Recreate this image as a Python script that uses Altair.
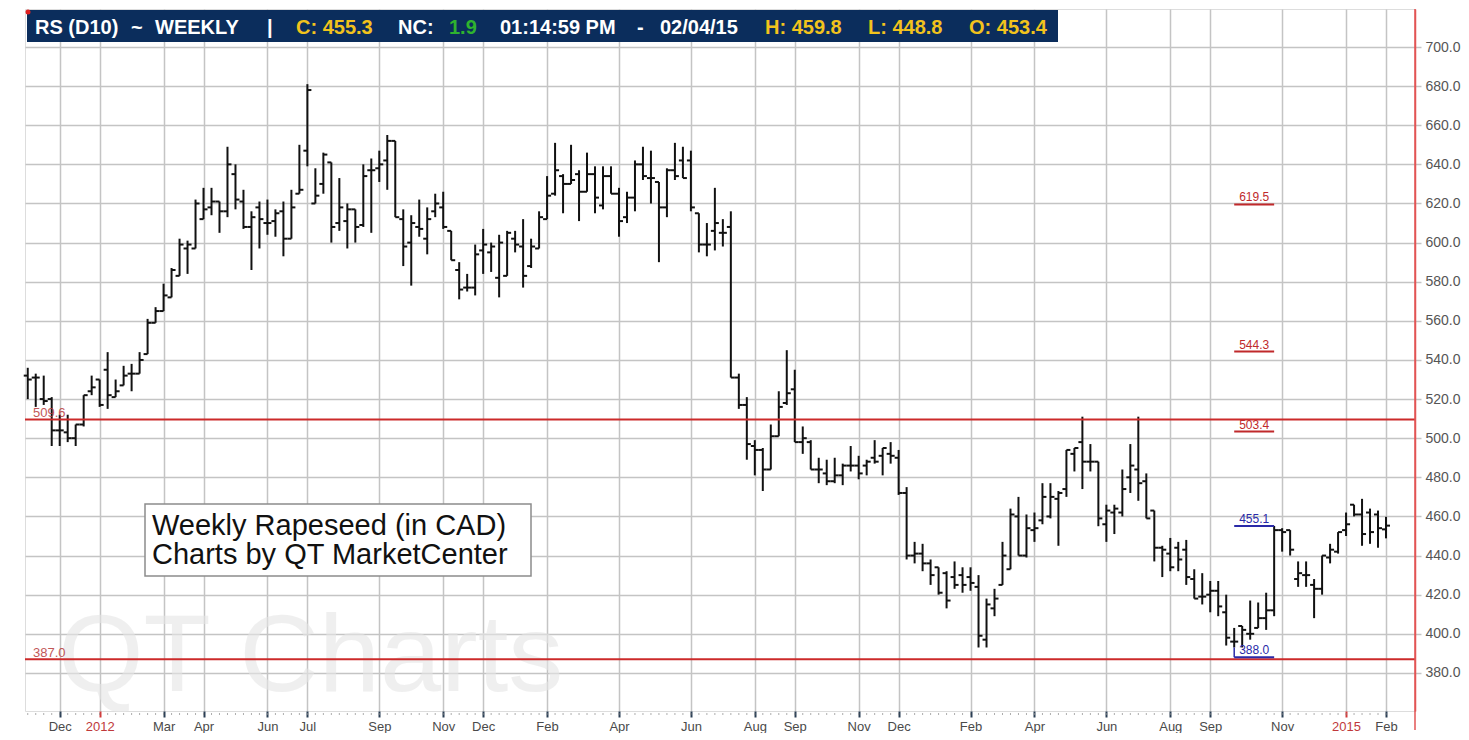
import altair as alt
import pandas as pd

# ---------------- data (weekly OHLC) ----------------
opens = [532, 531, 520, 520, 504, 503, 500, 507, 524, 530, 535, 521, 527, 533, 533, 543, 559, 565, 572, 583,
         597, 597, 612, 618, 621, 616, 635, 621, 608, 618, 610, 611, 616, 602, 625, 647, 620, 630, 641, 610,
         611, 617, 609, 637, 638, 642, 652, 612, 600, 608, 602, 616, 618, 606, 586, 577, 577, 596, 595, 582,
         583, 602, 598, 588, 597, 612, 625, 634, 630, 635, 626, 635, 619, 634, 625, 613, 623, 640, 633, 631,
         618, 637, 642, 642, 615, 599, 606, 605, 608, 531, 517, 496, 494, 484, 501, 518, 525, 498, 498, 484,
         482, 478, 481, 486, 486, 486, 490, 491, 492, 490, 472, 440, 441, 436, 434, 431, 429, 430, 429, 424,
         397, 413, 425, 433, 460, 440, 453, 458, 460, 469, 474, 492, 498, 488, 488, 456, 462, 462, 480, 484,
         478, 463, 444, 441, 444, 443, 428, 419, 420, 422, 411, 396, 404, 400, 403, 408, 412, 453, 453, 428,
         430, 425, 423, 439, 442, 453, 466, 461, 462, 461, 453.4]
highs = [536, 533, 532, 521, 512, 512, 507, 522, 532, 530, 544, 530, 537, 538, 544, 561, 567, 579, 587, 602,
         601, 622, 628, 628, 621, 649, 640, 627, 616, 621, 622, 617, 621, 627, 650, 681, 638, 646, 641, 633,
         620, 617, 640, 643, 647, 655, 652, 617, 614, 622, 618, 625, 626, 606, 590, 584, 599, 607, 600, 604,
         606, 606, 612, 602, 616, 634, 651, 635, 650, 637, 646, 639, 639, 639, 628, 626, 642, 649, 647, 631,
         638, 651, 649, 647, 615, 610, 628, 612, 616, 533, 521, 499, 495, 507, 524, 545, 535, 506, 499, 490,
         489, 490, 487, 496, 491, 489, 499, 495, 498, 494, 475, 447, 446, 438, 434, 432, 437, 434, 434, 430,
         418, 423, 447, 464, 470, 461, 462, 477, 477, 473, 494, 495, 511, 497, 488, 466, 466, 484, 497, 511,
         482, 463, 445, 449, 447, 448, 433, 431, 427, 427, 420, 403, 404, 417, 416, 421, 455.1, 454, 453, 437,
         437, 428, 440, 446, 452, 462, 466, 469, 464, 463, 459.8]
lows = [520, 516, 517, 496, 496, 498, 496, 506, 522, 516, 515, 521, 527, 524, 533, 543, 559, 565, 572, 583,
        584, 597, 612, 614, 605, 613, 617, 607, 586, 597, 604, 603, 593, 602, 625, 639, 620, 625, 600, 606,
        597, 600, 608, 605, 631, 627, 613, 588, 578, 603, 594, 613, 607, 591, 571, 575, 573, 584, 585, 572,
        583, 595, 577, 587, 597, 612, 624, 615, 630, 611, 626, 615, 617, 625, 603, 610, 616, 632, 620, 590,
        613, 632, 633, 616, 595, 593, 596, 598, 531, 515, 489, 481, 473, 484, 501, 517, 498, 492, 484, 477,
        476, 477, 476, 483, 479, 481, 487, 481, 487, 471, 438, 436, 432, 425, 420, 413, 423, 421, 422, 393,
        393, 409, 425, 433, 440, 439, 447, 456, 459, 445, 470, 483, 474, 483, 455, 447, 451, 460, 472, 468,
        459, 437, 429, 432, 432, 425, 418, 415, 411, 409, 394, 393, 393, 397, 403, 402, 409, 442, 440, 424,
        424, 408, 420, 436, 441, 450, 460, 445, 446, 444, 448.8]
closes = [530, 531, 519, 504, 504, 500, 507, 522, 526, 517, 522, 524, 532, 533, 540, 559, 565, 573, 586, 599,
          599, 620, 617, 621, 616, 640, 622, 608, 613, 612, 610, 615, 602, 618, 627, 678, 624, 645, 608, 618,
          617, 608, 634, 637, 640, 652, 613, 598, 610, 607, 612, 620, 608, 591, 576, 577, 594, 599, 598, 600,
          605, 599, 583, 598, 613, 624, 637, 630, 632, 626, 635, 623, 634, 625, 611, 623, 640, 634, 633, 618,
          637, 634, 633, 618, 599, 599, 610, 605, 531, 517, 497, 494, 484, 501, 516, 523, 498, 500, 484, 484,
          478, 481, 486, 486, 482, 488, 488, 495, 491, 472, 440, 441, 436, 430, 421, 417, 425, 425, 426, 399,
          415, 418, 440, 461, 440, 454, 454, 470, 470, 472, 494, 495, 488, 488, 459, 463, 464, 474, 486, 477,
          459, 444, 443, 434, 438, 429, 418, 419, 422, 414, 398, 396, 402, 400, 408, 412, 453, 452, 443, 431,
          430, 423, 440, 443, 452, 456, 461, 451, 452, 454, 455.3]
last_week = "2015-02-06"

axis_ticks = ["2011-12-02", "2012-01-06", "2012-03-02", "2012-04-06", "2012-06-01", "2012-07-06",
              "2012-09-07", "2012-11-02", "2012-12-07", "2013-02-01", "2013-04-05", "2013-06-07",
              "2013-08-02", "2013-09-06", "2013-11-01", "2013-12-06", "2014-02-07", "2014-04-04",
              "2014-06-06", "2014-08-01", "2014-09-05", "2014-11-07", "2015-01-02", "2015-02-06"]
y_ticks = list(range(380, 701, 20))

level_values = [509.6, 387.0]
level_labels = ["509.6", "387.0"]
fib_values = [619.5, 544.3, 503.4, 455.1, 388.0]
fib_labels = ["619.5", "544.3", "503.4", "455.1", "388.0"]
fib_colors = ["#c0292b", "#c0292b", "#c0292b", "#2a2aa8", "#2a2aa8"]

header_texts = ["RS (D10)", "~", "WEEKLY", "|", "C: 455.3", "NC:", "1.9", "01:14:59 PM", "-",
                "02/04/15", "H: 459.8", "L: 448.8", "O: 453.4"]
header_colors = ["white", "white", "white", "white", "#f2c31c", "white", "#2fb32f", "white", "white",
                 "white", "#f2c31c", "#f2c31c", "#f2c31c"]
header_x = [10, 106, 130, 242, 271, 373, 424, 475, 612, 635, 740, 843, 944]

note_lines = ["Weekly Rapeseed (in CAD)", "Charts by QT MarketCenter"]
watermark = "QT Charts"

# ---------------- layout ----------------
W, H = 1390, 702
FONT = "Liberation Sans, Arial, sans-serif"
NARROW = "Liberation Sans Narrow, Arial Narrow, Liberation Sans, sans-serif"

dates = pd.date_range(end=last_week, periods=len(opens), freq="W-FRI")
df = pd.DataFrame({"date": dates, "open": opens, "high": highs, "low": lows, "close": closes})

left = dates[0] - pd.Timedelta(days=2.4)
right = left + pd.Timedelta(days=1217.8)


def dt(ts):
    return alt.DateTime(year=ts.year, month=ts.month, date=ts.day, hours=ts.hour, minutes=ts.minute)


tick_vals = [dt(pd.Timestamp(d)) for d in axis_ticks]

xscale = alt.Scale(domain=[dt(left), dt(right)])
yscale = alt.Scale(domain=[360.53, 719.43], nice=False, zero=False)

jan_test = "month(datum.value) == 0"
xaxis = alt.Axis(
    values=tick_vals, title=None, grid=True, gridColor="#c4c4c4", gridWidth=1.5,
    domain=False, tickSize=6, tickWidth=2,
    tickColor={"condition": {"test": jan_test, "value": "#d23a3a"}, "value": "#2b3f55"},
    labelColor={"condition": {"test": jan_test, "value": "#c0393b"}, "value": "#4a4a4a"},
    labelExpr="month(datum.value) == 0 ? timeFormat(datum.value, '%Y') : timeFormat(datum.value, '%b')",
    labelFont=NARROW, labelFontSize=13, labelPadding=3,
)
yaxis = alt.Axis(
    orient="right", values=y_ticks, format=".1f", title=None, grid=True, gridColor="#c4c4c4",
    gridWidth=1.5, tickSize=6, tickColor="#c4c4c4", tickWidth=1.5, domainColor="#e25555",
    domainWidth=1.5, labelFont=FONT, labelFontSize=14, labelColor="#555555", labelPadding=4,
)

base = alt.Chart(df)
hl = base.mark_rule(color="#111111", strokeWidth=2).encode(
    x=alt.X("date:T", scale=xscale, axis=xaxis),
    y=alt.Y("low:Q", scale=yscale, axis=yaxis),
    y2="high:Q",
)
op = base.mark_rule(color="#111111", strokeWidth=2, xOffset=-4).encode(
    x="date:T", x2="date:T", y=alt.Y("open:Q", scale=yscale))
cl = base.mark_rule(color="#111111", strokeWidth=2, x2Offset=4).encode(
    x="date:T", x2="date:T", y=alt.Y("close:Q", scale=yscale))
minor = base.mark_tick(orient="vertical", size=2, thickness=1, color="#8a8a8a").encode(
    x="date:T", y=alt.value(H + 3))

# horizontal levels
lv = pd.DataFrame({"v": level_values, "t": level_labels})
lv_rule = alt.Chart(lv).mark_rule(color="#cc2a2a", strokeWidth=2).encode(y=alt.Y("v:Q", scale=yscale))
lv_text = alt.Chart(lv).mark_text(align="left", baseline="alphabetic", dy=-2, font=FONT, fontSize=13,
                                  color="#b83a3a", opacity=0.85).encode(
    x=alt.value(8), y=alt.Y("v:Q", scale=yscale), text="t:N")

# fib segments
fb = pd.DataFrame({"v": fib_values, "t": fib_labels, "c": fib_colors,
                   "start": dates[151], "end": dates[156],
                   "mid": dates[151] + (dates[156] - dates[151]) / 2})
fb_rule = alt.Chart(fb).mark_rule(strokeWidth=2).encode(
    x="start:T", x2="end:T", y=alt.Y("v:Q", scale=yscale), color=alt.Color("c:N", scale=None))
fb_text = alt.Chart(fb).mark_text(align="center", baseline="alphabetic", dy=-3, font=FONT,
                                  fontSize=12).encode(
    x="mid:T", y=alt.Y("v:Q", scale=yscale), text="t:N", color=alt.Color("c:N", scale=None))
low_link = alt.Chart(pd.DataFrame({"date": [dates[151]], "a": [fib_values[4]], "b": [lows[151]]})).mark_rule(
    color="#2a2aa8", strokeWidth=1.5).encode(x="date:T", y=alt.Y("a:Q", scale=yscale), y2="b:Q")

one = pd.DataFrame({"k": [0]})
wm = alt.Chart(one).mark_text(text=watermark, align="left", baseline="alphabetic", font=FONT,
                              fontSize=110, color="#e6e6e6", opacity=0.6).encode(
    x=alt.value(33), y=alt.value(682))
note_box = alt.Chart(one).mark_rect(fill="white", stroke="#8c8c8c", strokeWidth=1.5).encode(
    x=alt.value(120), x2=alt.value(506), y=alt.value(495), y2=alt.value(567))
note1 = alt.Chart(one).mark_text(text=note_lines[0], align="left", baseline="alphabetic", font=FONT,
                                 fontSize=29, color="#111111").encode(x=alt.value(127), y=alt.value(526))
note2 = alt.Chart(one).mark_text(text=note_lines[1], align="left", baseline="alphabetic", font=FONT,
                                 fontSize=29, color="#111111").encode(x=alt.value(127), y=alt.value(555))

header_box = alt.Chart(one).mark_rect(fill="#0b2d5c").encode(
    x=alt.value(2), x2=alt.value(1033), y=alt.value(1), y2=alt.value(33))
header_layers = []
for t, c, hx in zip(header_texts, header_colors, header_x):
    header_layers.append(
        alt.Chart(one).mark_text(text=t, align="left", baseline="alphabetic", font=FONT, fontSize=20,
                                 fontWeight="bold", color=c).encode(x=alt.value(hx), y=alt.value(25)))
corner = alt.Chart(one).mark_point(filled=True, color="#e02020", size=25, opacity=1).encode(
    x=alt.value(3), y=alt.value(3))
right_line = alt.Chart(one).mark_rule(color="#e25555", strokeWidth=1.5).encode(
    x=alt.value(W), y=alt.value(0), y2=alt.value(H + 19))

chart = alt.layer(
    hl, wm, lv_rule, lv_text, fb_rule, fb_text, low_link, op, cl, minor,
    note_box, note1, note2, header_box, *header_layers, corner, right_line,
).properties(
    width=W, height=H,
    autosize=alt.AutoSizeParams(type="pad"),
    padding={"left": 14, "top": 0, "right": 0, "bottom": 0},
).configure_view(stroke=None).configure(background="white")

chart.save("out.html", embed_options={"renderer": "svg", "actions": False})
